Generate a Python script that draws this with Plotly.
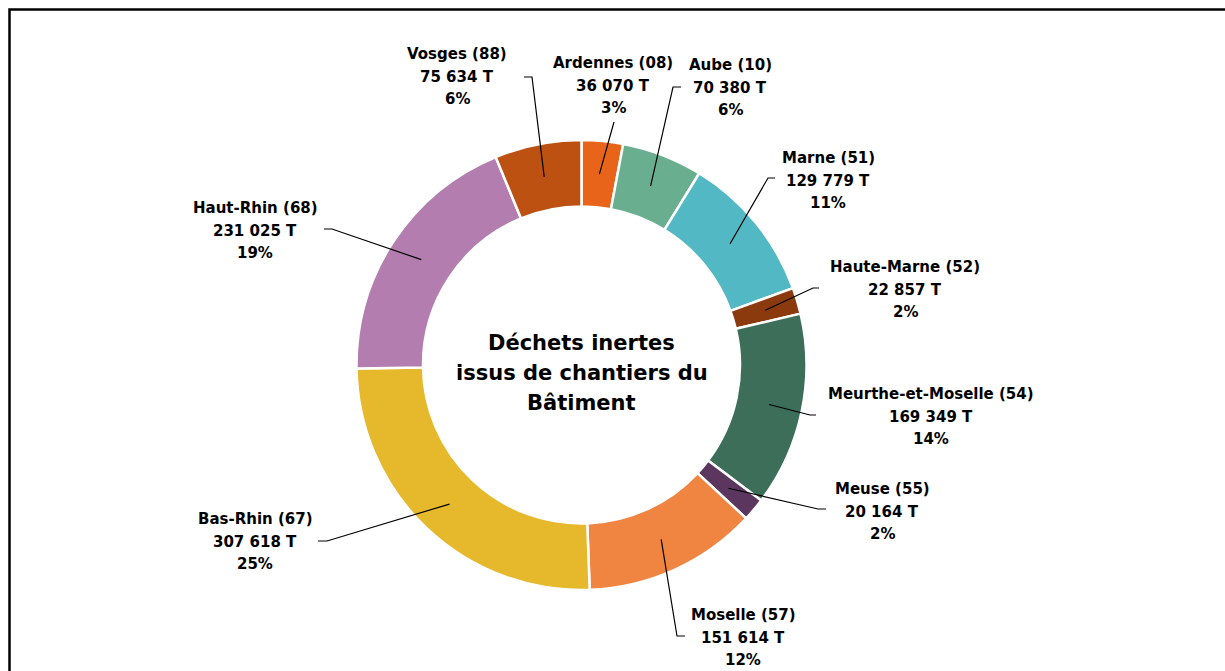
import math
import plotly.graph_objects as go

# ---------------- data ----------------
departements = ["Ardennes (08)", "Aube (10)", "Marne (51)", "Haute-Marne (52)",
                "Meurthe-et-Moselle (54)", "Meuse (55)", "Moselle (57)",
                "Bas-Rhin (67)", "Haut-Rhin (68)", "Vosges (88)"]
tonnages = [36070, 70380, 129779, 22857, 169349, 20164, 151614, 307618, 231025, 75634]
couleurs = ["#E8641A", "#6AAE90", "#52B8C3", "#8B3A0E", "#3D6E5A",
            "#5B3760", "#F08542", "#E6B82B", "#B37EAF", "#BC5112"]
titre_centre = ["Déchets inertes", "issus de chantiers du", "Bâtiment"]

# ---------------- layout (pixels) ----------------
W, H = 1225, 671
CX, CY = 581.5, 365.0
R_OUT, R_IN = 225.0, 158.5
FONT = "DejaVu Sans"
LAB_SIZE = 15
LINE_GAP = 22.5

# label block: (centre x, first line y, leader points from label side toward slice)
label_pos = {
    "Ardennes (08)": (613, 63, [(614, 122)]),
    "Aube (10)": (730, 65, [(681, 87), (673, 87)]),
    "Marne (51)": (828, 158, [(775, 178), (768, 178)]),
    "Haute-Marne (52)": (905, 267, [(819, 288), (813, 288)]),
    "Meurthe-et-Moselle (54)": (931, 394, [(816, 415), (810, 415)]),
    "Meuse (55)": (882, 489, [(826, 509), (818, 509)]),
    "Moselle (57)": (743, 615, [(685, 636), (677, 636)]),
    "Bas-Rhin (67)": (255, 519, [(318, 541), (327, 541)]),
    "Haut-Rhin (68)": (255, 208, [(324, 229), (332, 229)]),
    "Vosges (88)": (457, 54, [(524, 77), (532, 77)]),
}

total = sum(tonnages)

def fmt(v):
    return f"{v:,}".replace(",", " ") + " T"

fig = go.Figure()

fig.add_trace(go.Pie(
    labels=departements, values=tonnages, hole=R_IN / R_OUT,
    sort=False, direction="clockwise", rotation=0,
    marker=dict(colors=couleurs, line=dict(color="white", width=2.5)),
    textinfo="none", hoverinfo="label+value+percent", showlegend=False,
    domain=dict(x=[(CX - R_OUT) / W, (CX + R_OUT) / W],
                y=[(H - CY - R_OUT) / H, (H - CY + R_OUT) / H]),
))

# invisible pixel axes for annotations / leader lines
fig.add_trace(go.Scatter(x=[0, W], y=[0, H], mode="markers",
                         marker=dict(opacity=0), hoverinfo="skip", showlegend=False))

annotations = []
shapes = []
cum = 0
r_mid = (R_IN + R_OUT) / 2
for name, v in zip(departements, tonnages):
    mid = (cum + v / 2) / total
    cum += v
    ang = 2 * math.pi * mid
    ax = CX + r_mid * math.sin(ang)
    ay = CY - r_mid * math.cos(ang)
    cx, y0, pts = label_pos[name]
    pct = f"{round(100 * v / total)}%"
    for i, line in enumerate([name, fmt(v), pct]):
        annotations.append(dict(x=cx, y=y0 + i * LINE_GAP, xref="x", yref="y",
                                text=f"<b>{line}</b>", showarrow=False,
                                font=dict(family=FONT, size=LAB_SIZE, color="black"),
                                xanchor="center", yanchor="middle"))
    path_pts = pts + [(ax, ay)]
    path = "M " + " L ".join(f"{px},{py}" for px, py in path_pts)
    shapes.append(dict(type="path", path=path, xref="x", yref="y",
                       line=dict(color="black", width=1.2)))

for i, line in enumerate(titre_centre):
    annotations.append(dict(x=CX, y=343 + i * 30, xref="x", yref="y",
                            text=f"<b>{line}</b>", showarrow=False,
                            font=dict(family=FONT, size=21, color="black"),
                            xanchor="center", yanchor="middle"))

# outer frame
shapes.append(dict(type="rect", xref="x", yref="y", x0=9.5, y0=9.5, x1=W + 20, y1=H + 20,
                   line=dict(color="black", width=2.5), fillcolor="rgba(0,0,0,0)"))

fig.update_layout(
    width=W, height=H, margin=dict(l=0, r=0, t=0, b=0),
    paper_bgcolor="white", plot_bgcolor="rgba(0,0,0,0)",
    xaxis=dict(range=[0, W], visible=False, fixedrange=True),
    yaxis=dict(range=[H, 0], visible=False, fixedrange=True),
    annotations=annotations, shapes=shapes,
)

fig.write_html("out.html",
               config={"displayModeBar": False},
               post_script="document.body.style.margin='0px';document.body.style.overflow='hidden';")
